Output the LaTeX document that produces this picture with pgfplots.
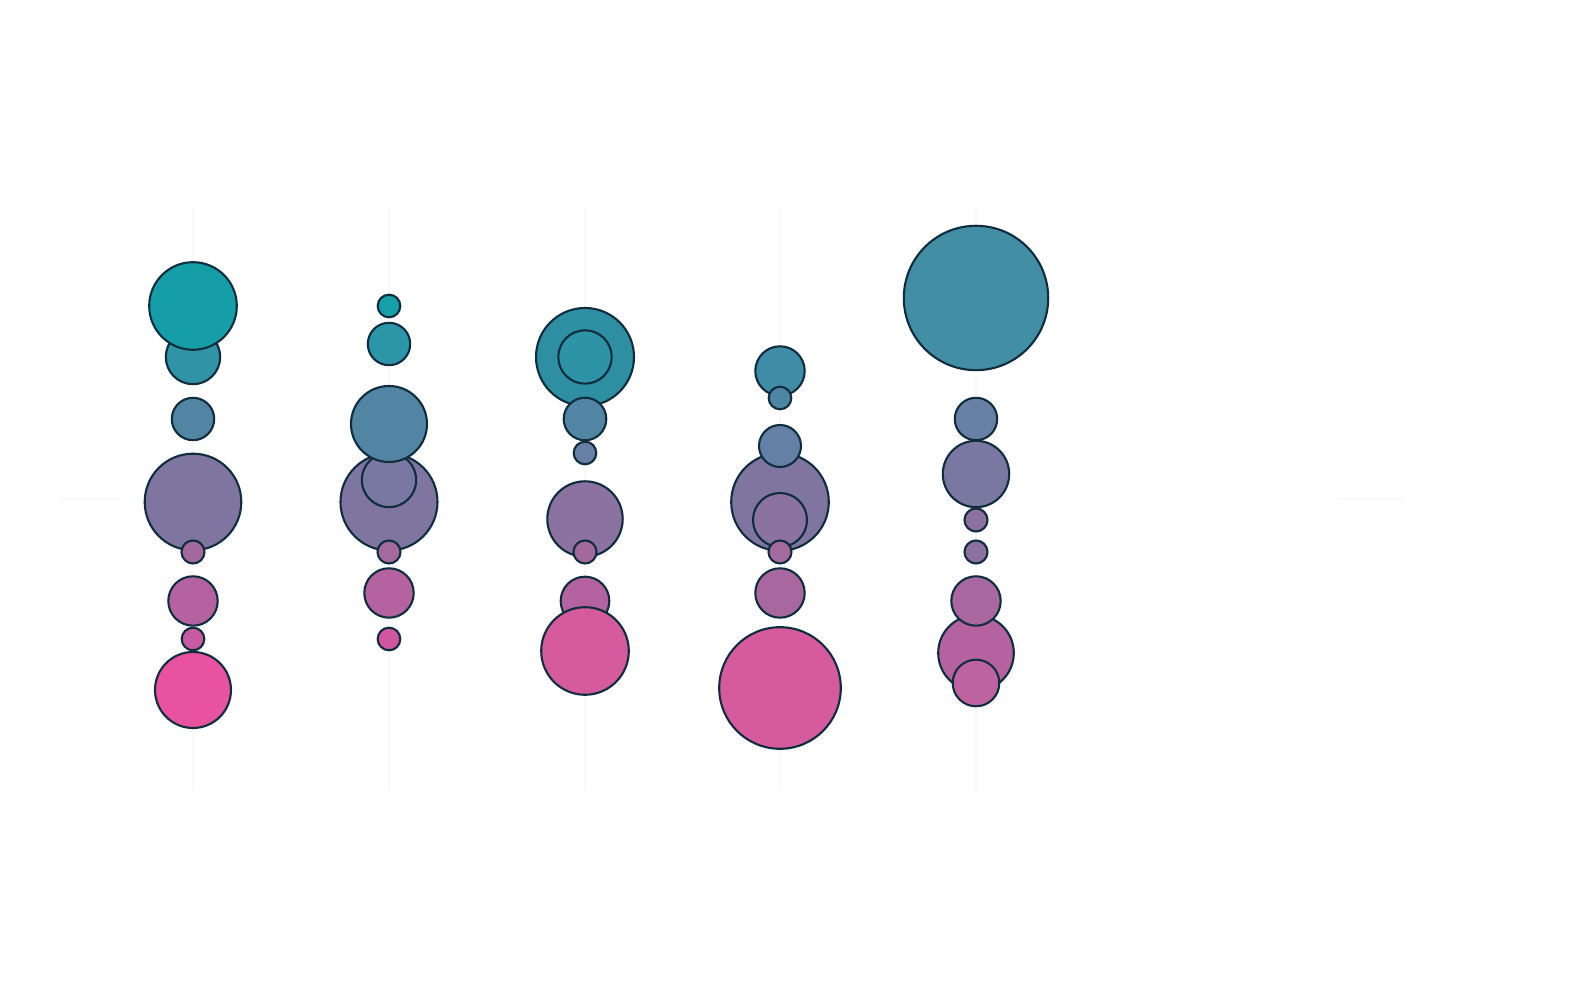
\documentclass[border=0pt]{standalone}
\usepackage{pgfplots}
\usepackage{pgfplotstable}
\pgfplotsset{compat=1.18}
\definecolor{edgec}{RGB}{15,45,61}
\definecolor{gridc}{RGB}{249,249,249}
\pgfplotstableread{
x y r R G B
193 357 27.2 49 147 166
193 306 43.8 22 158 168
193 419 21.2 82 133 163
193 502 48.3 128 117 160
193 552 11.5 164 106 158
193 601 24.7 180 99 160
193 639 11.3 201 91 163
193 690 38.0 233 82 160
389 306 11.3 23 160 168
389 344 21.2 43 150 168
389 502 48.5 128 117 160
389 480 27.2 120 120 163
389 424 38.0 82 133 163
389 552 11.5 164 106 158
389 593 24.7 180 99 160
389 639 11.3 208 86 160
585 357 49.0 46 143 163
585 357 26.7 46 147 166
585 419 21.3 82 133 163
585 453 11.3 104 128 165
585 519 37.7 140 114 160
585 552 11.5 164 106 158
585 601 24.3 180 99 160
585 651 43.8 213 90 158
780 371 24.7 63 140 166
780 398 11.3 77 134 165
780 502 48.8 128 117 160
780 446 21.0 100 128 165
780 520 27.0 140 114 160
780 552 11.5 164 106 158
780 593 24.7 168 104 159
780 688 60.8 213 90 158
976 298 72.2 66 142 165
976 419 21.2 104 128 165
976 474 33.2 120 120 163
976 520 11.5 140 114 160
976 552 11.5 140 114 160
976 653 37.8 181 99 160
976 601 24.7 168 104 159
976 683 23.3 191 98 160
}\bubbles
\begin{document}
\begin{tikzpicture}
\begin{axis}[
  width=15.9cm, height=10cm, scale only axis,
  xmin=0, xmax=1590, ymin=0, ymax=1000, y dir=reverse,
  hide axis, clip=false,
]
\path (rel axis cs:0,0) rectangle (rel axis cs:1,1);
\addplot[gridc, line width=0.5pt] coordinates {(193,208) (193,791)};
\addplot[gridc, line width=0.5pt] coordinates {(389,208) (389,791)};
\addplot[gridc, line width=0.5pt] coordinates {(585,208) (585,791)};
\addplot[gridc, line width=0.5pt] coordinates {(780,208) (780,791)};
\addplot[gridc, line width=0.5pt] coordinates {(976,208) (976,791)};
\addplot[gridc, line width=0.5pt] coordinates {(61,499) (122,499)};
\addplot[gridc, line width=0.5pt] coordinates {(1338,499) (1404,499)};
\addplot[
  scatter, only marks, mark=*,
  visualization depends on={\thisrow{r}\as\rad},
  visualization depends on={\thisrow{R}\as\cR},
  visualization depends on={\thisrow{G}\as\cG},
  visualization depends on={\thisrow{B}\as\cB},
  scatter/@pre marker code/.code={%
    \pgfmathtruncatemacro\iR{\cR}%
    \pgfmathtruncatemacro\iG{\cG}%
    \pgfmathtruncatemacro\iB{\cB}%
    \pgfmathsetmacro\msz{\rad*0.28453}%
    \definecolor{mc}{RGB}{\iR,\iG,\iB}%
    \scope[mark size=\msz pt, fill=mc, draw=edgec, line width=0.6pt]},
  scatter/@post marker code/.code={\endscope},
] table[x=x, y=y] {\bubbles};
\end{axis}
\end{tikzpicture}
\end{document}
